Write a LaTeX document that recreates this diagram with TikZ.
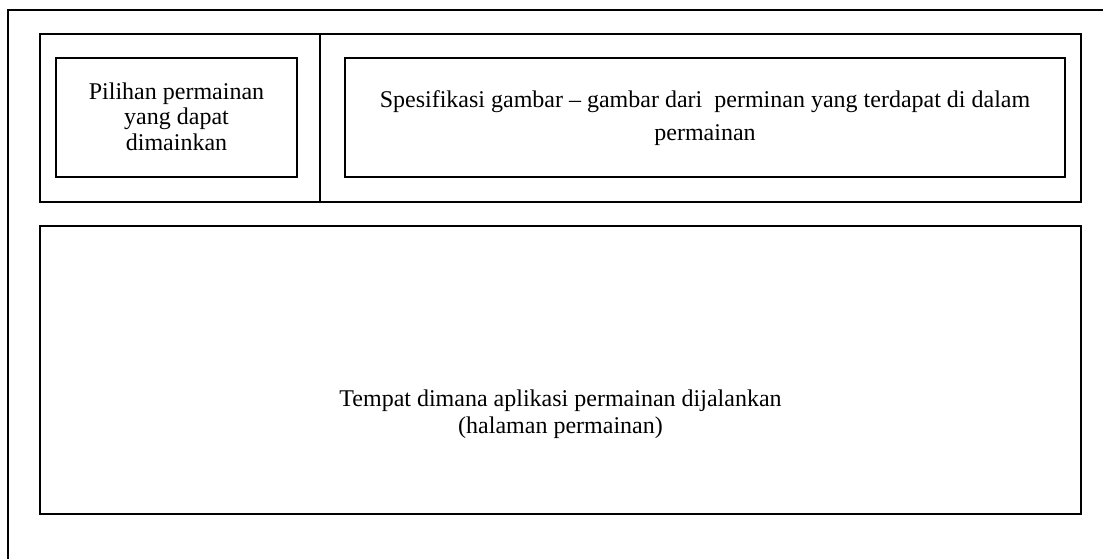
\documentclass[tikz,border=0pt]{standalone}
\usepackage{fontspec}
\setmainfont{Liberation Serif}
\begin{document}
\begin{tikzpicture}[x=1pt,y=-1pt,
  frame/.style={draw=black, line width=1.5pt},
  panel/.style={frame, rectangle, inner sep=0pt, outer sep=0pt},
  label/.style={anchor=base, inner sep=0pt, font=\fontsize{24}{#1}\selectfont}]
\useasboundingbox (0,0) rectangle (1103,559);
\clip (0,0) rectangle (1103,559);

% page frame, running off the right and bottom edges
\draw[frame] (8,590) -- (8,10) -- (1130,10);

% header panel with its two boxes
\node[panel, minimum width=1041pt, minimum height=168pt] (header) at (560.5,118) {};
\draw[frame] (header.north -| 320,0) -- (header.south -| 320,0);
\node[panel, minimum width=241pt, minimum height=119pt] (choice) at (176.5,117.5) {};
\node[panel, minimum width=720pt, minimum height=119pt] (spec) at (705,117.5) {};

% main game area
\node[panel, minimum width=1041pt, minimum height=288pt] (game) at (560.5,370) {};

% texts
\node[label=25.7pt] (choicetext) at (176.5,99.3)
  {\begin{tabular}[t]{@{}c@{}}Pilihan permainan\\yang dapat\\dimainkan\end{tabular}};
\node[label=33.4pt] (spectext) at (705,107.3)
  {\begin{tabular}[t]{@{}c@{}}Spesifikasi gambar – gambar dari~ perminan yang terdapat di dalam\\permainan\end{tabular}};
\node[label=27pt] (gametext) at (560.5,406)
  {\begin{tabular}[t]{@{}c@{}}Tempat dimana aplikasi permainan dijalankan\\(halaman permainan)\end{tabular}};
\end{tikzpicture}
\end{document}
